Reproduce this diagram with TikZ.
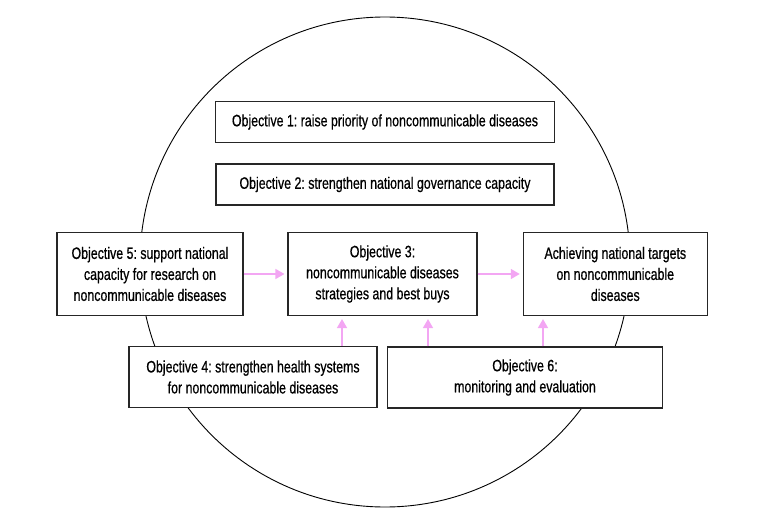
\documentclass[tikz,border=0pt]{standalone}
\usepackage{fontspec}
\setmainfont[FakeStretch=0.75,FakeBold=0.6]{Liberation Sans}
\usetikzlibrary{arrows.meta}
\definecolor{pinkarr}{HTML}{F3A6F3}
\tikzset{
  box/.style={draw=black!85, line width=1.1pt, fill=white, align=center, inner sep=0pt,
    font=\fontsize{16.5}{21}\selectfont\frenchspacing},
  arr/.style={draw=pinkarr, line width=1.5pt, -{Triangle[length=9pt,width=10pt]}, shorten >=3pt}
}
\begin{document}
\begin{tikzpicture}[x=1pt,y=-1pt]
\useasboundingbox (0,0) rectangle (771,524);
\draw[line width=0.9pt] (385,262) circle[radius=245];
\node[box, minimum width=339pt, minimum height=41pt] (o1) at (385,122) {Objective 1: raise priority of noncommunicable diseases};
\node[box, minimum width=338pt, minimum height=41pt] (o2) at (385,184.5) {Objective 2: strengthen national governance capacity};
\node[box, minimum width=186pt, minimum height=83pt] (o5) at (150,274) {Objective 5: support national\\capacity for research on\\noncommunicable diseases};
\node[box, minimum width=189pt, minimum height=83pt] (o3) at (382.5,274) {Objective 3:\\noncommunicable diseases\\strategies and best buys};
\node[box, minimum width=184pt, minimum height=83pt] (ach) at (615.3,274) {Achieving national targets\\on noncommunicable\\diseases};
\node[box, minimum width=248pt, minimum height=61pt] (o4) at (253,377) {Objective 4: strengthen health systems\\for noncommunicable diseases};
\node[box, minimum width=275pt, minimum height=61pt] (o6) at (525,377.5) {Objective 6:\\monitoring and evaluation};
\coordinate (xa) at (342,0);
\coordinate (xb) at (428,0);
\coordinate (xc) at (543,0);
\draw[arr] (o5.east) -- (o3.west);
\draw[arr] (o3.east) -- (ach.west);
\draw[arr] (o4.north -| xa) -- (o3.south -| xa);
\draw[arr] (o6.north -| xb) -- (o3.south -| xb);
\draw[arr] (o6.north -| xc) -- (ach.south -| xc);
\end{tikzpicture}
\end{document}
